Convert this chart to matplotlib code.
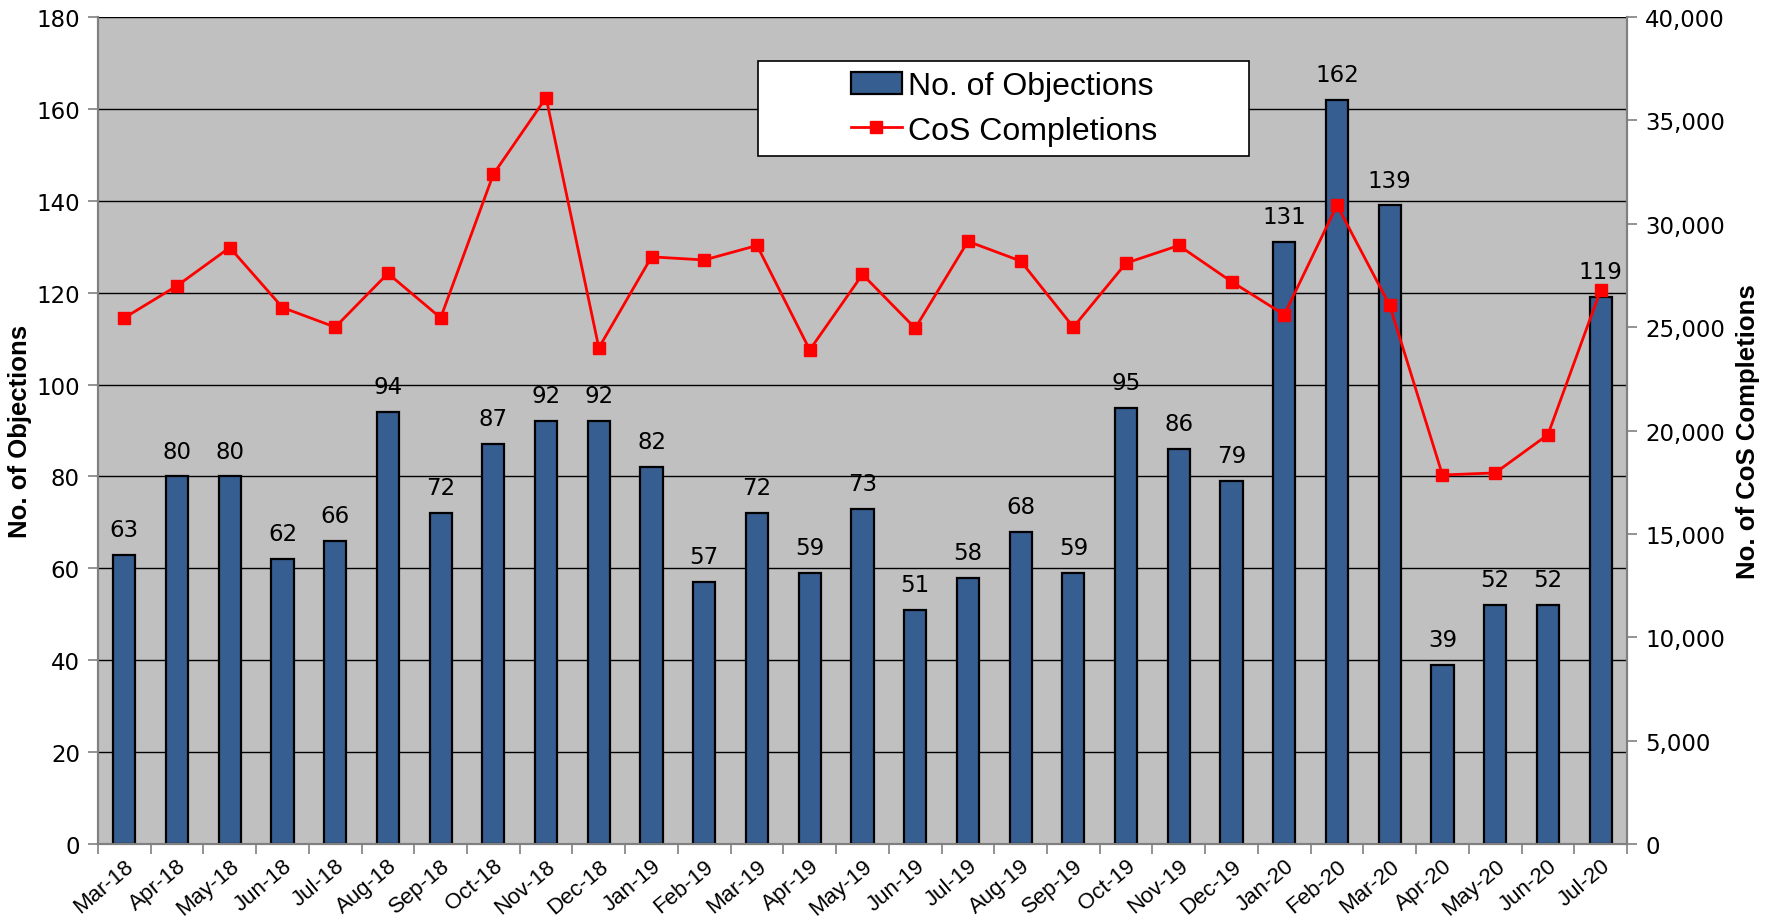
import numpy as np
import matplotlib
matplotlib.use('Agg')
import matplotlib.pyplot as plt
from matplotlib.patches import Rectangle
from matplotlib.ticker import FuncFormatter, MultipleLocator

months = ['Mar-18', 'Apr-18', 'May-18', 'Jun-18', 'Jul-18', 'Aug-18', 'Sep-18', 'Oct-18',
          'Nov-18', 'Dec-18', 'Jan-19', 'Feb-19', 'Mar-19', 'Apr-19', 'May-19', 'Jun-19',
          'Jul-19', 'Aug-19', 'Sep-19', 'Oct-19', 'Nov-19', 'Dec-19', 'Jan-20', 'Feb-20',
          'Mar-20', 'Apr-20', 'May-20', 'Jun-20', 'Jul-20']
objections = [63, 80, 80, 62, 66, 94, 72, 87, 92, 92, 82, 57, 72, 59, 73, 51, 58, 68, 59,
              95, 86, 79, 131, 162, 139, 39, 52, 52, 119]
cos_completions = [25450, 27000, 28850, 25950, 25000, 27600, 25450, 32400, 36100, 24000,
                   28400, 28250, 28950, 23900, 27550, 24950, 29150, 28200, 25000, 28100,
                   28950, 27200, 25600, 30900, 26050, 17850, 17950, 19800, 26800]

num_font = 'DejaVu Sans'
txt_font = 'Liberation Sans'

fig = plt.figure(figsize=(17.71, 9.2), dpi=100)
ax = fig.add_axes([0.0553, 0.0815, 0.8634, 0.8989])
ax2 = ax.twinx()

x = np.arange(len(months))
ax.set_facecolor('#C0C0C0')
bars = ax.bar(x, objections, width=0.42, color='#365E91', edgecolor='black', linewidth=1.6,
              zorder=3, label='No. of Objections')
ax.bar_label(bars, padding=10, fontsize=16.5, family=num_font)

ax.set_ylim(0, 180)
ax.yaxis.set_major_locator(MultipleLocator(20))
ax.grid(axis='y', color='black', linewidth=1.0, zorder=1)
ax.set_axisbelow(True)
ax.set_xlim(-0.5, len(months) - 0.5)
ax.set_xticks(x)
ax.set_xticklabels(months, rotation=40, ha='right', rotation_mode='anchor',
                   fontsize=16, family=txt_font)
ax.set_xticks(np.arange(len(months) + 1) - 0.5, minor=True)
ax.tick_params(axis='x', which='major', length=0, pad=8)
ax.tick_params(axis='x', which='minor', length=7, color='#808080', width=1.2)
ax.tick_params(axis='y', length=7, color='#808080', width=1.2, labelsize=16.5, pad=6)
for lab in ax.get_yticklabels():
    lab.set_family(num_font)
ax.set_ylabel('No. of Objections', fontsize=18.5, fontweight='bold', family=txt_font)
ax.yaxis.set_label_coords(-0.043, 0.5)

ax2.plot(x, cos_completions, color='#FF0000', linewidth=2, marker='s', markersize=8,
         zorder=4, label='CoS Completions')
ax2.set_ylim(0, 40000)
ax2.yaxis.set_major_locator(MultipleLocator(5000))
ax2.yaxis.set_major_formatter(FuncFormatter(lambda v, p: f'{int(v):,}'))
ax2.tick_params(axis='y', length=7, color='#808080', width=1.2, labelsize=16.5, pad=6)
for lab in ax2.get_yticklabels():
    lab.set_family(num_font)
ax2.set_ylabel('No. of CoS Completions', fontsize=18.5, fontweight='bold', family=txt_font,
               rotation=90)
ax2.yaxis.set_label_coords(1.071, 0.5)

for a in (ax, ax2):
    for s in a.spines.values():
        s.set_color('#808080')
        s.set_linewidth(1.5)
    a.spines['top'].set_visible(False)

# legend box
ax2.add_patch(Rectangle((0.432, 0.832), 0.321, 0.115, transform=ax2.transAxes,
                        facecolor='white', edgecolor='black', linewidth=1.2, zorder=8))
h1, l1 = ax.get_legend_handles_labels()
h2, l2 = ax2.get_legend_handles_labels()
leg = ax2.legend(h1 + h2, l1 + l2, loc='center', bbox_to_anchor=(0.5925, 0.8895),
                 frameon=False, prop={'family': txt_font, 'size': 23},
                 handlelength=1.6, handletextpad=0.2, labelspacing=0.45, borderpad=0)
leg.set_zorder(9)

fig.savefig('out.png', dpi=100)
